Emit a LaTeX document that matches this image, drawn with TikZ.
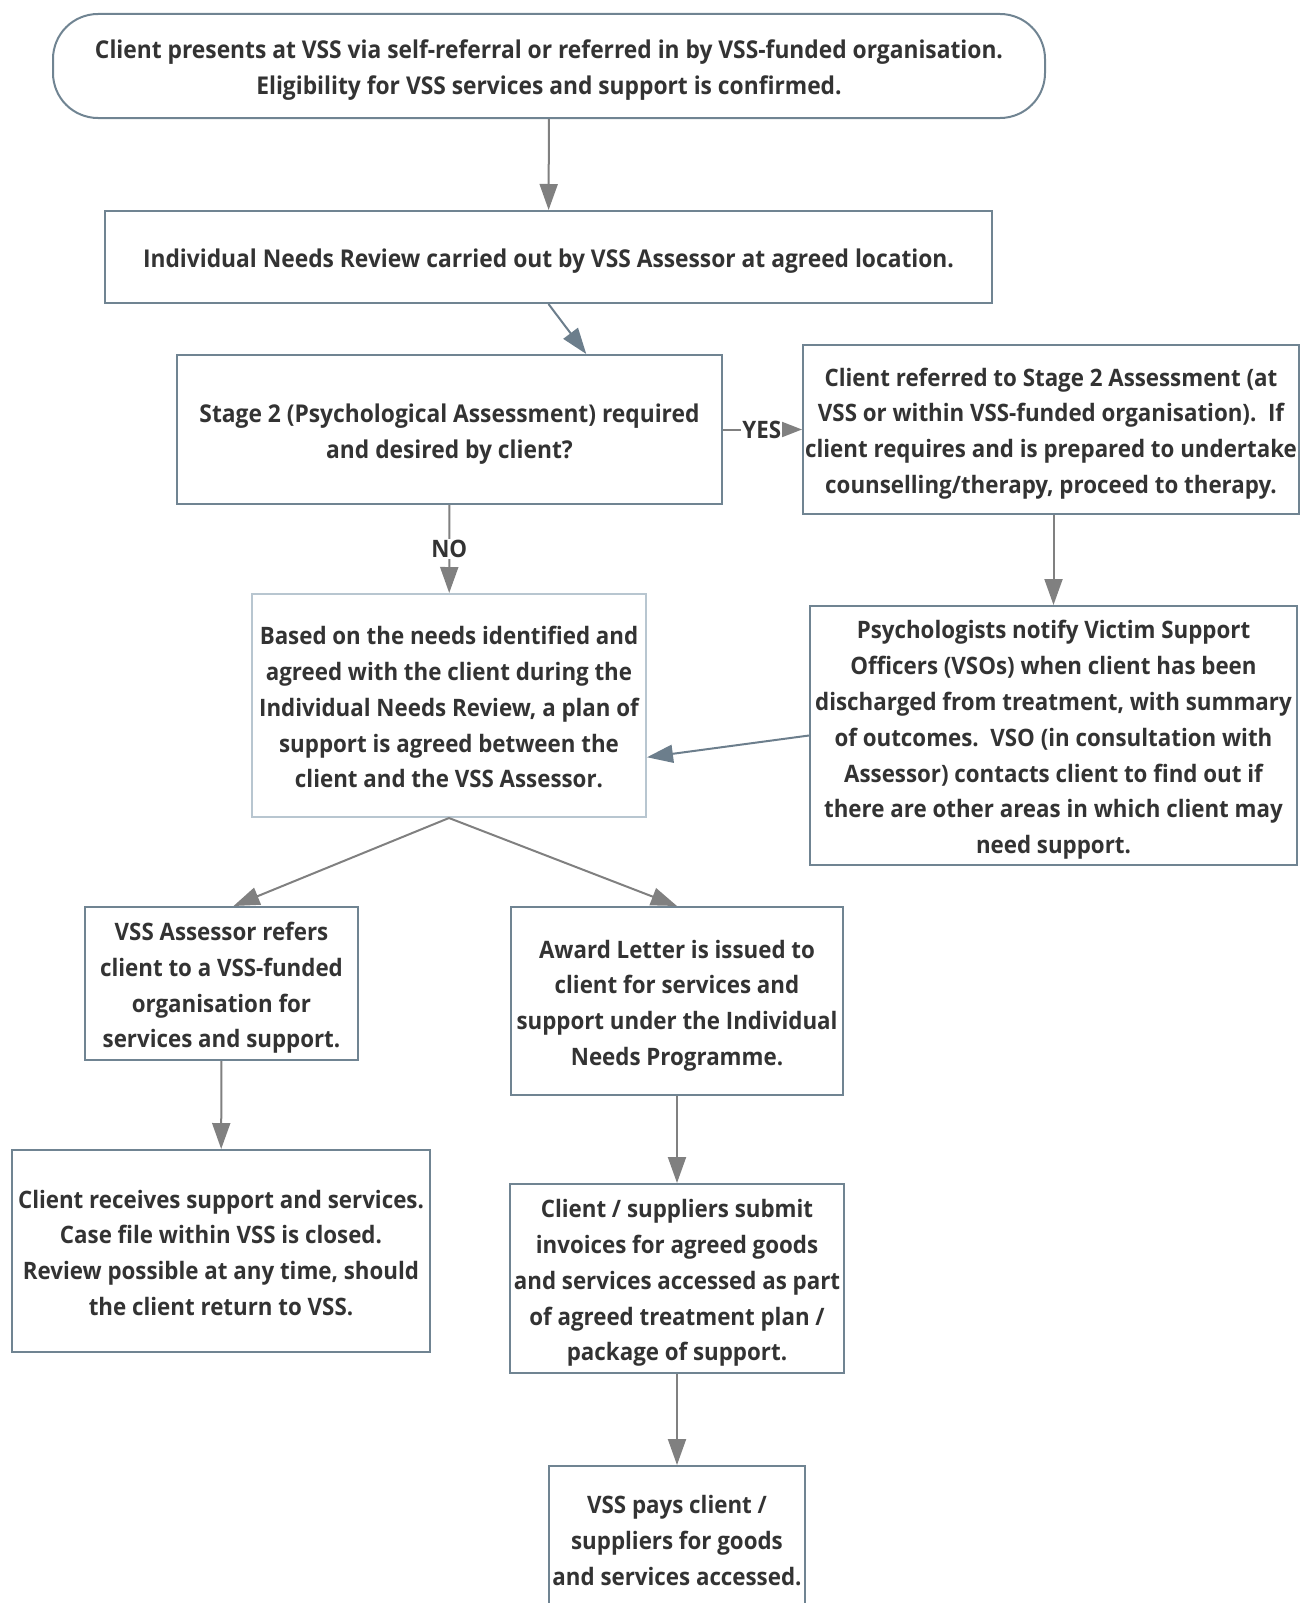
\documentclass[tikz,border=0pt]{standalone}
\usepackage{fontspec}
\setmainfont[FakeStretch=0.93]{Open Sans}
\usetikzlibrary{positioning,arrows.meta,calc,shapes.misc}
\definecolor{boxedge}{RGB}{112,132,146}
\definecolor{paleedge}{RGB}{184,198,208}
\definecolor{arrgray}{RGB}{128,128,128}
\definecolor{arrslate}{RGB}{108,126,140}
\definecolor{txt}{RGB}{51,51,51}
\newcommand{\topstrut}{\rule{0pt}{28pt}}
\newcommand{\botstrut}{\rule[-6.6pt]{0pt}{0pt}}
\tikzset{
  box/.style={draw=boxedge,line width=2pt,fill=white,text=txt,align=center,
    inner sep=2pt,font=\fontsize{24}{35.8}\selectfont\bfseries},
  widebox/.style={box,font=\fontsize{24.5}{35.8}\selectfont\bfseries},
  flow/.style={-{Triangle[length=26pt,width=18pt]},line width=2pt,draw=arrgray},
  flowslate/.style={flow,draw=arrslate},
  lbl/.style={fill=white,inner sep=1pt,text=txt,font=\fontsize{24}{28}\selectfont\bfseries},
}
\begin{document}
\begin{tikzpicture}[x=1pt,y=-1pt]
  \useasboundingbox (0,0) rectangle (1300,1603);
  % top row
  \node[widebox,rounded corners=45pt,minimum width=992pt,minimum height=104pt] (start) at (549,66)
    {\topstrut Client presents at VSS via self-referral or referred in by VSS-funded organisation.\\
     Eligibility for VSS services and support is confirmed.\botstrut};
  \node[widebox,minimum width=887pt,minimum height=92pt] (review) at (548.5,257)
    {\topstrut Individual Needs Review carried out by VSS Assessor at agreed location.\botstrut};
  % stage 2 decision
  \node[widebox,minimum width=545pt,minimum height=149pt] (stage2) at (449.5,429.5)
    {\topstrut Stage 2 (Psychological Assessment) required\\ and desired by client?\botstrut};
  \node[box,minimum width=496pt,minimum height=169pt] (referred) at (1051,429)
    {\topstrut Client referred to Stage 2 Assessment (at\\
     VSS or within VSS-funded organisation).~~If\\
     client requires and is prepared to undertake\\
     counselling/therapy, proceed to therapy.\botstrut};
  \node[box,minimum width=487pt,minimum height=259pt] (psych) at (1053.5,735.5)
    {\topstrut Psychologists notify Victim Support\\
     Officers (VSOs) when client has been\\
     discharged from treatment, with summary\\
     of outcomes.~~VSO (in consultation with\\
     Assessor) contacts client to find out if\\
     there are other areas in which client may\\
     need support.\botstrut};
  \node[box,draw=paleedge,minimum width=394pt,minimum height=223pt] (plan) at (449,705.5)
    {\topstrut Based on the needs identified and\\
     agreed with the client during the\\
     Individual Needs Review, a plan of\\
     support is agreed between the\\
     client and the VSS Assessor.\botstrut};
  % two branches
  \node[box,minimum width=273pt,minimum height=153pt] (refers) at (221.5,983.5)
    {\topstrut VSS Assessor refers\\ client to a VSS-funded\\ organisation for\\ services and support.\botstrut};
  \node[box,minimum width=332pt,minimum height=188pt] (award) at (677,1001)
    {\topstrut Award Letter is issued to\\ client for services and\\ support under the Individual\\ Needs Programme.\botstrut};
  \node[box,minimum width=418pt,minimum height=202pt] (receives) at (221,1251)
    {\topstrut Client receives support and services.\\ Case file within VSS is closed.\\
     Review possible at any time, should\\ the client return to VSS.\botstrut};
  \node[box,minimum width=334pt,minimum height=189pt] (submit) at (677,1278.5)
    {\topstrut Client / suppliers submit\\ invoices for agreed goods\\ and services accessed as part\\
     of agreed treatment plan /\\ package of support.\botstrut};
  \node[box,minimum width=256pt,minimum height=145pt] (pays) at (677,1538.5)
    {\topstrut VSS pays client /\\ suppliers for goods\\ and services accessed.\botstrut};
  % connectors
  \draw[flow] (start) -- (review);
  \draw[flowslate] (review.south) -- ($(stage2.north west)!0.75!(stage2.north east)$);
  \draw[flow,-{Triangle[length=20pt,width=15pt]}] (stage2.east) -- node[lbl,pos=0.49] {YES} (stage2.east -| referred.west);
  \draw[flow] (stage2) -- node[lbl] {NO} (plan);
  \draw[flow] (referred.south -| psych.north) -- (psych.north);
  \draw[flowslate] (psych.west) -- ($(plan.south east)!0.27!(plan.north east)$);
  \draw[flow] (plan.south) -- ($(refers.north)+(12,0)$);
  \draw[flow] (plan.south) -- (award.north);
  \draw[flow] (refers) -- (receives);
  \draw[flow] (award) -- (submit);
  \draw[flow] (submit) -- (pays);
\end{tikzpicture}
\end{document}
